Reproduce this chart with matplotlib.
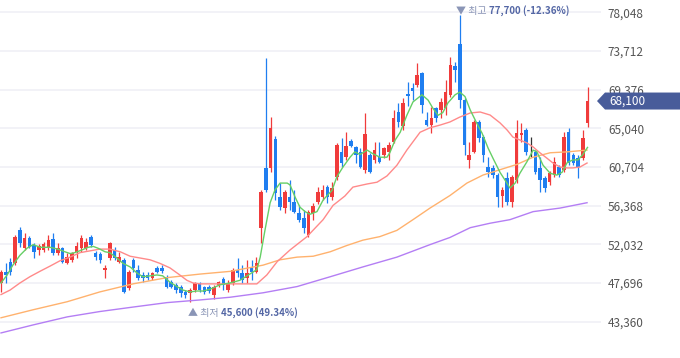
import numpy as np
import matplotlib.pyplot as plt
from matplotlib.patches import Polygon
from matplotlib.transforms import blended_transform_factory

plt.rcParams['font.family'] = ['Noto Sans CJK KR', 'DejaVu Sans']

# daily candles (won)
opens = [47700, 48900, 50100, 49900, 53600, 51600, 52700, 52000, 51400, 51400,
         51600, 52600, 51100, 51600, 49900, 50300, 51200, 51600, 51600, 52900,
         51100, 51000, 49200, 50500, 51400, 50100, 50300, 47100, 50300, 49200,
         48600, 48600, 48300, 49400, 49400, 48400, 47800, 47500, 47300, 46700,
         46600, 46900, 47600, 47300, 47300, 46400, 47500, 48100, 46900, 47700,
         49200, 48800, 48300, 49500, 48900, 53900, 60600, 60600, 63800, 57300,
         56100, 57300, 56800, 55500, 55000, 53100, 55500, 56800, 57300, 58500,
         57300, 59600, 62400, 61800, 63600, 62900, 62400, 60400, 62100, 61500,
         61800, 62100, 62400, 63500, 66900, 65300, 68900, 69600, 69900, 71200,
         66000, 65400, 67300, 67100, 67300, 68800, 72000, 74500, 68200, 61500,
         62400, 65800, 64100, 60700, 60600, 59800, 57500, 59500, 56800, 59200,
         64300, 64900, 62900, 62400, 60600, 59500, 59000, 59800, 60700, 60400,
         64600, 62100, 61700, 61700, 65600]
highs = [49200, 49900, 50500, 53100, 54000, 53300, 53000, 52200, 52100, 52300,
         53100, 53300, 52200, 51700, 51100, 51200, 52300, 53100, 52700, 53100,
         51300, 51200, 49700, 52300, 51700, 51200, 50500, 49200, 50500, 49700,
         48900, 48900, 48900, 49600, 49700, 48600, 48000, 47700, 47500, 46900,
         47100, 47800, 47800, 47400, 47500, 47500, 47900, 48400, 48000, 49400,
         50500, 49700, 50300, 50300, 50600, 58100, 72900, 66300, 64200, 58900,
         58100, 59200, 58100, 56400, 55900, 55900, 56700, 58500, 58700, 58700,
         59000, 63400, 64000, 64600, 63800, 63100, 62800, 66800, 62300, 63500,
         63500, 62900, 63500, 67100, 67900, 68400, 70200, 70100, 72400, 71400,
         66900, 67400, 67400, 68400, 70500, 73000, 72500, 77700, 68400, 63500,
         66000, 66000, 64300, 61800, 60900, 60000, 58500, 60100, 59800, 66000,
         65600, 65100, 64100, 62600, 61800, 59700, 60300, 61800, 60900, 64600,
         65100, 62300, 62100, 64900, 69700]
lows = [46700, 47700, 48600, 49700, 51700, 51400, 51600, 50500, 50800, 51200,
        51400, 50800, 50800, 49900, 49800, 50100, 50500, 51200, 51400, 51700,
        50300, 49900, 48300, 50300, 50300, 49900, 46600, 46900, 48900, 48000,
        47800, 48000, 48000, 48800, 48800, 47100, 47100, 46600, 46100, 46000,
        45600, 46700, 46700, 46500, 46600, 45900, 47300, 46900, 46700, 47500,
        48400, 47700, 47700, 48000, 48800, 52200, 57900, 60100, 57000, 55900,
        55500, 55900, 55500, 54500, 53300, 52900, 54800, 56600, 57000, 56700,
        57000, 59200, 60700, 61500, 62900, 61200, 60600, 60000, 60000, 61200,
        61200, 61700, 61500, 63400, 65200, 64900, 67500, 68200, 69700, 66800,
        65300, 64500, 65800, 66200, 66500, 68600, 70200, 67300, 62100, 60600,
        62300, 63500, 61300, 59600, 59500, 56200, 56200, 56400, 56200, 58900,
        63500, 62100, 61800, 59900, 57900, 57900, 58700, 59600, 59600, 60100,
        60900, 60900, 59500, 61500, 65200]
closes = [48900, 48600, 48900, 52900, 52200, 52700, 51700, 51200, 51800, 52100,
          52500, 51100, 51600, 50100, 50600, 51100, 51800, 52700, 52300, 52000,
          50600, 50300, 49400, 52200, 50500, 50600, 46700, 48900, 49400, 48300,
          48300, 48300, 48800, 48900, 49000, 47300, 47300, 46900, 46600, 46400,
          46900, 47700, 46900, 46700, 46800, 47300, 47800, 47500, 47700, 49200,
          48800, 48000, 48800, 48900, 49900, 57900, 58100, 65100, 57800, 56200,
          57900, 56800, 55700, 54800, 53900, 55700, 56300, 57900, 58100, 57300,
          58400, 63200, 61200, 63100, 63100, 62100, 60700, 64400, 60100, 62600,
          61300, 62800, 63200, 66200, 65800, 67900, 68700, 69200, 71000, 67700,
          65400, 66200, 66200, 68000, 69100, 72100, 71600, 68200, 63200, 62100,
          65800, 64000, 62100, 60100, 59800, 57300, 58100, 56800, 59600, 64500,
          64500, 62400, 62900, 60100, 59200, 58400, 60000, 61300, 59800, 64100,
          61200, 61200, 60700, 64000, 68100]

# moving averages read at sample days
ma5_day = [0, 1.3, 2.5, 4, 5.5, 6.8, 8.3, 10.4, 12, 13.5, 14.6, 15.6, 17.1, 18.4, 19.5,
           20.5, 22, 23, 24.5, 25.8, 27.3, 28.8, 30, 31.5, 33, 34.2, 35.7, 37.2, 38.5, 40,
           41.4, 42.7, 44.2, 46.3, 48.4, 50.5, 52.6, 54.1, 54.8, 55.8, 56.9, 57.9, 59, 60.5,
           61.1, 62.2, 63.2, 64.3, 65.3, 66.8, 68.1, 70, 71, 72.3, 73.8, 74.8, 75.9, 77.4,
           78.6, 80.1, 81.6, 82.2, 83.3, 84.4, 85.8, 87.1, 89, 90.3, 91.3, 92.4, 93.4, 94.5,
           96, 97, 98.1, 99.2, 100.6, 101.7, 103, 104, 105.5, 106.6, 107.6, 108.7, 109.7,
           111.2, 112.5, 113.3, 114.6, 116.1, 117.5, 118.6, 119.7, 120.9, 122, 123, 124]
ma5_val = [47700, 48600, 49700, 50800, 51600, 52000, 51700, 51700, 51500, 51200, 51000,
           51100, 51400, 51700, 51800, 51600, 51200, 51100, 50500, 49900, 49500, 48800,
           48400, 48500, 48600, 48500, 47800, 47300, 46900, 46700, 46800, 46800, 47000,
           47500, 47700, 48000, 48700, 49200, 50600, 53600, 56700, 58100, 58900, 58900,
           58700, 57300, 56200, 55700, 55400, 55700, 57000, 58100, 59600, 60700, 61800,
           62400, 62100, 62600, 62200, 61800, 61800, 62300, 63700, 64600, 66500, 68000,
           68800, 68200, 67300, 66500, 66800, 67900, 68800, 69100, 68600, 67100, 65600,
           64500, 62800, 61700, 60100, 59200, 58350, 58900, 60000, 61300, 62600, 62400,
           60900, 60000, 59800, 60100, 61200, 61500, 61500, 62100, 62900]
ma20_day = [0, 1.9, 4, 6.1, 8.2, 10.4, 12.5, 14.6, 16.7, 18.8, 20.9, 23, 25.2, 27.3, 29.4,
            31.5, 33.6, 35.7, 37.8, 39.3, 40.6, 42.1, 48.4, 54.1, 56.2, 58.4, 61.1, 64.7,
            68.1, 70.2, 72.7, 74.4, 77.4, 79.5, 81.6, 83.7, 85.8, 88.6, 90.7, 92.8, 94.9,
            97, 99.2, 101.3, 103.4, 105.5, 107, 108.2, 109.7, 111.2, 112.5, 113.7, 115.4,
            116.7, 118.2, 119.7, 120.9, 122.4, 123.9]
ma20_val = [46400, 46900, 47700, 48400, 49000, 49600, 50200, 50600, 51100, 51300, 51500,
            51500, 51200, 50700, 50500, 50300, 49900, 49400, 48600, 48000, 47700, 47600,
            47600, 47600, 48600, 50100, 51400, 52900, 54800, 56400, 57450, 58450, 58800,
            59000, 59700, 60900, 62600, 64600, 65100, 65400, 65750, 66300, 66760, 66870,
            66530, 65650, 64850, 64070, 63730, 63400, 62950, 62400, 61700, 61150, 60700,
            60600, 60600, 60700, 61150]
ma60_day = [0, 6.8, 14, 20.9, 27.9, 35.1, 42.1, 48.4, 55.4, 59, 62.6, 66, 69.6, 73.1,
            76.5, 80.1, 83.7, 87.1, 90.7, 94.9, 98.5, 101.9, 105.5, 109.1, 112.5, 116.1,
            119.7, 123.9]
ma60_val = [43800, 44700, 45600, 46700, 47600, 48300, 48700, 49000, 49700, 50300, 50600,
            50700, 51200, 51900, 52500, 52900, 53600, 54800, 56100, 57500, 58900, 59800,
            60400, 61000, 61800, 62300, 62400, 62600]
ma120_day = [0, 6.8, 14, 20.9, 27.9, 35.1, 42.1, 48.4, 55.4, 62.6, 69.6, 76.5, 83.7,
             90.7, 94.9, 99.2, 103.4, 107.6, 112.5, 118.2, 123.9]
ma120_val = [42100, 43000, 43900, 44500, 45000, 45500, 45800, 46100, 46600, 47300, 48400,
             49500, 50600, 52000, 52800, 53900, 54400, 54800, 55700, 56100, 56700]

yticks = [43360, 47696, 52032, 56368, 60704, 65040, 69376, 73712, 78048]

fig = plt.figure(figsize=(6.8, 3.58), dpi=100)
ax = fig.add_axes([0, 0, 601 / 680, 1])

o = np.array(opens)
c = np.array(closes)
days = np.arange(len(o))
colors = np.where(c > o, '#f03b3b', np.where(c < o, '#1f7ef0', '#333333'))

ax.vlines(days, lows, highs, colors=colors, lw=0.9, zorder=2)
ax.bar(days, np.maximum(np.abs(c - o), 80), bottom=np.minimum(o, c), width=0.76,
       color=colors, lw=0, zorder=2)

ax.plot(ma120_day, ma120_val, color='#b47ef4', lw=1.0, zorder=3)
ax.plot(ma60_day, ma60_val, color='#ffb26e', lw=1.0, zorder=3)
ax.plot(ma20_day, ma20_val, color='#ff8a8a', lw=1.0, zorder=3)
ax.plot(ma5_day, ma5_val, color='#66cf66', lw=1.0, zorder=3)

ax.set_xlim(-1 / 4.73, 600 / 4.73)
ax.set_ylim(39290, 79427)
ax.set_xticks([])
ax.set_yticks(yticks)
ax.set_yticklabels([f'{v:,}' for v in yticks])
ax.yaxis.tick_right()
ax.tick_params(axis='y', length=0, pad=5, labelsize=8.5, labelcolor='#555555')
ax.grid(axis='y', color='#f2f2f7', lw=1.4, zorder=0)
for s in ax.spines.values():
    s.set_visible(False)

# high / low markers
hi = int(np.argmax(highs))
lo = int(np.argmin(lows))
last = closes[-1]
fig.canvas.draw()


def two_part(x, y, light, bold):
    t1 = ax.text(x, y, light, color='#8a95b6', fontsize=7.2, va='baseline', ha='left')
    fig.canvas.draw()
    bb = t1.get_window_extent()
    xr = ax.transData.inverted().transform((bb.x1, bb.y0))[0]
    ax.text(xr, y, bold, color='#5467a5', fontsize=7.0, fontweight='bold',
            va='baseline', ha='left')


two_part(hi - 0.8, highs[hi] + 150, '▼ 최고 ',
         f'{highs[hi]:,} ({(last - highs[hi]) / highs[hi] * 100:.2f}%)')
two_part(lo - 0.5, lows[lo] - 1550, '▲ 최저 ',
         f'{lows[lo]:,} ({(last - lows[lo]) / lows[lo] * 100:.2f}%)')

# current price tag
tr = blended_transform_factory(fig.transFigure, ax.transData)
hh = 8.5 * 112.1
tag = Polygon([(597 / 680, last), (605 / 680, last + hh), (1, last + hh),
               (1, last - hh), (605 / 680, last - hh)], closed=True,
              transform=tr, facecolor='#485c9a', edgecolor='none', clip_on=False)
fig.add_artist(tag)
fig.text(609 / 680, last, f'{last:,}', transform=tr, color='white', fontsize=8.5,
         va='center', ha='left')

fig.savefig('out.png', dpi=100)
